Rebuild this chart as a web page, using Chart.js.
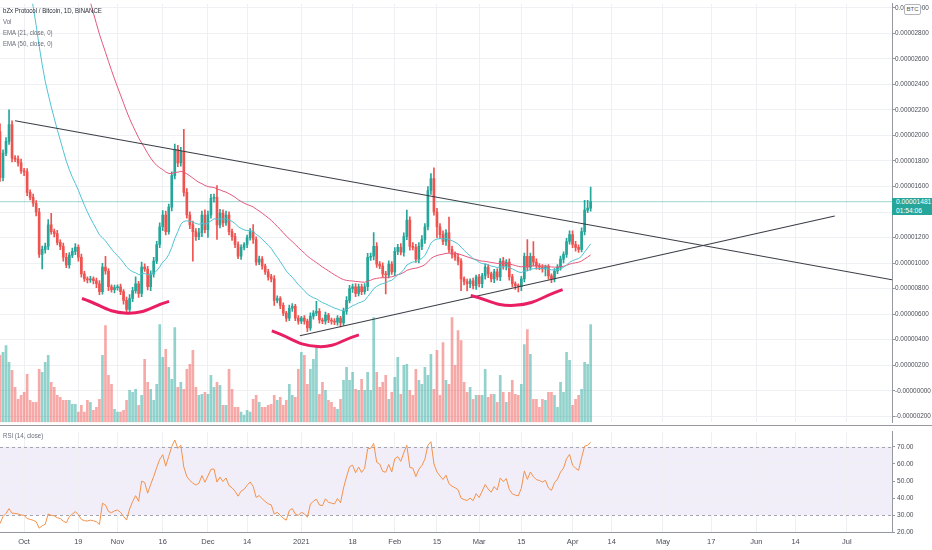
<!DOCTYPE html>
<html>
<head>
<meta charset="utf-8">
<script src="https://cdn.jsdelivr.net/npm/chart.js@4.4.1/dist/chart.umd.min.js"></script>
<style>
  body { margin: 0; background: #fff; width: 932px; height: 550px; overflow: hidden; position: relative;
         font-family: 'Liberation Sans', sans-serif; }
  #main { position: absolute; left: 0; top: 0; }
  #rsi { position: absolute; left: 0; top: 426px; }
  .lg { position: absolute; left: 3px; font-size: 7.6px; color: #6a6d78; white-space: nowrap; line-height: 9px;
        transform: scaleX(0.8); transform-origin: left top; }
  .sep { position: absolute; left: 0; top: 425px; width: 932px; height: 1px; background: #9598a1; }
  .btc { position: absolute; left: 904px; top: 4px; width: 15px; height: 9px; border: 1px solid #b2b5be; border-radius: 2px;
         background: #fff; font-size: 6px; line-height: 9px; text-align: center; color: #50535e; }
  .last { position: absolute; left: 892px; top: 198px; width: 40px; height: 17px; background: #26a69a; color: #fff;
          font-size: 6.7px; line-height: 8.5px; padding-left: 4px; box-sizing: border-box; }
</style>
</head>
<body>
<canvas id="main" width="932" height="426"></canvas>
<canvas id="rsi" width="932" height="124"></canvas>
<div class="sep"></div>
<div class="lg" style="top:6px;color:#2a2e39">bZx Protocol / Bitcoin, 1D, BINANCE</div>
<div class="lg" style="top:17px">Vol</div>
<div class="lg" style="top:28px">EMA (21, close, 0)</div>
<div class="lg" style="top:39px">EMA (50, close, 0)</div>
<div class="lg" style="top:431px">RSI (14, close)</div>
<div class="btc">BTC</div>
<div class="last">0.00001481<br>01:54:06</div>
<script>
// day 0 = 2020-09-23, one candle per day, prices in satoshi (1e-8 BTC)
const prevClose = 2031;
const closes = [
  1669,1862,1954,2085,1823,1815,1785,1723,1715,1554,
  1515,1469,1400,1069,1108,1131,1300,1246,1231,1162,
  1131,1046,985,1062,1092,1123,1046,915,877,869,
  877,862,838,777,969,938,815,792,808,815,
  777,708,638,723,785,838,762,969,954,815,
  915,1015,1146,1285,1377,1246,1438,1685,1892,1785,
  1877,1554,1377,1300,1246,1208,1238,1377,1262,1377,
  1508,1515,1300,1392,1315,1377,1246,1208,1146,1054,
  1123,1146,1200,1246,1185,1008,1031,977,931,892,
  877,708,723,669,608,569,646,662,569,546,
  569,546,492,585,608,623,554,546,592,554,
  546,538,569,531,623,708,800,815,762,815,
  777,815,1046,1054,1131,992,977,915,908,992,
  931,1092,1123,1085,1208,1338,1131,1123,1031,1131,
  1185,1285,1569,1662,1400,1285,1223,1169,1238,1108,
  1069,1046,1015,877,854,838,862,823,892,838,
  900,969,915,877,931,892,1015,977,1008,892,
  838,823,815,877,1054,969,1054,1008,977,969,
  954,969,900,877,938,969,1031,1069,1169,1223,
  1146,1123,1108,1246,1415,1431,1481
];
const wickUp = [
  60,25,30,115,30,20,25,30,20,25,
  20,25,20,30,25,25,40,90,20,25,
  20,25,30,20,25,30,20,25,20,15,
  20,15,20,25,30,85,20,15,20,15,
  20,15,25,30,25,55,20,40,25,20,
  25,30,25,30,35,30,25,30,40,30,
  30,170,30,25,30,25,35,30,40,30,
  30,25,92,30,25,30,25,20,25,20,
  20,15,20,25,55,20,25,20,15,20,
  20,25,20,15,20,15,25,20,15,20,
  15,20,15,25,20,77,20,15,25,15,
  15,20,20,15,25,30,25,20,25,20,
  20,25,30,25,108,30,20,25,20,25,
  20,30,25,30,30,77,25,30,25,30,
  30,25,30,40,85,30,25,30,25,123,
  25,20,25,20,15,20,15,20,15,20,
  20,25,20,15,20,25,20,30,20,25,
  20,15,15,20,25,130,25,115,25,20,
  20,15,20,15,20,20,25,20,25,30,
  30,25,20,30,77,60,115
];
const wickDown = [
  30,25,20,25,30,20,25,20,30,25,
  20,25,30,25,115,30,25,20,25,20,
  25,30,20,25,20,25,30,25,20,25,
  20,25,30,25,20,25,30,20,25,20,
  25,30,25,20,25,20,30,25,20,25,
  30,25,20,25,30,25,20,30,25,30,
  25,30,25,30,230,30,25,30,25,60,
  25,30,115,25,30,20,25,30,25,20,
  25,20,25,20,30,25,20,25,20,25,
  25,40,20,25,20,25,20,25,20,25,
  20,25,30,20,25,20,25,20,25,20,
  25,20,25,30,20,25,20,30,25,20,
  25,20,30,25,30,25,20,25,150,25,
  20,30,25,20,30,25,30,20,25,30,
  25,30,25,30,25,85,30,25,30,25,
  30,25,30,92,25,55,30,25,30,25,
  30,25,30,25,30,25,30,25,30,25,
  25,30,40,30,25,30,25,30,25,20,
  25,55,25,30,25,20,25,30,25,20,
  25,30,25,20,25,20,25
];
const volumes = [
  67,70,77,60,52,35,23,27,30,48,
  22,20,20,53,50,60,67,40,35,27,
  25,22,22,22,18,18,10,17,10,22,
  20,12,15,23,67,97,47,38,13,10,
  10,12,22,32,30,33,17,27,63,40,
  33,22,38,98,65,73,55,43,95,35,
  40,33,53,58,72,35,27,28,30,28,
  47,35,40,37,17,17,53,33,15,15,
  10,7,12,10,23,27,20,15,15,17,
  18,27,22,25,17,22,38,27,25,53,
  70,67,38,53,63,75,28,40,32,22,
  20,15,13,23,42,55,42,50,33,32,
  43,32,50,32,105,50,35,40,47,23,
  30,45,65,28,57,58,32,27,53,42,
  38,55,47,68,33,72,27,80,42,38,
  105,57,92,82,40,30,35,23,27,27,
  27,53,25,28,28,20,47,30,20,30,
  42,28,27,38,78,93,68,23,23,15,
  23,22,30,30,27,15,40,30,70,62,
  17,23,27,33,60,58,98
];
const tickDays = [8, 26, 39, 54, 69, 82, 100, 117, 131, 145, 159, 173, 190, 203, 220, 236, 251, 264, 281];
const tickLabels = ['Oct', '19', 'Nov', '16', 'Dec', '14', '2021', '18', 'Feb', '15', 'Mar', '15', 'Apr', '14', 'May', '17', 'Jun', '14', 'Jul'];
const priceTicks = [-200, 0, 200, 400, 600, 800, 1000, 1200, 1400, 1600, 1800, 2000, 2200, 2400, 2600, 2800, 3000];
const rsiTicks = [20, 30, 40, 50, 60, 70];
const lastPrice = 1481;

// hand drawn lines on the chart: [day, sats]
const resistance = [[5, 2115], [296, 869]];
const support = [[99.5, 431], [277, 1369]];
const arcs = [
  [[27.2, 723], [42.1, 608], [56.1, 700]],
  [[90.2, 469], [105.5, 346], [119.1, 438]],
  [[156.2, 746], [170.8, 669], [186.7, 792]]
];

// indicator state carried over from before the first visible day
const ema21Start = 5800;
const ema50Start = 7500;
const rsiGainStart = 70, rsiLossStart = 180;

Chart.defaults.font.family = "'Liberation Sans', sans-serif";

const UP = '#26a69a', DOWN = '#ef5350';
const opens = closes.map((c, i) => (i === 0 ? prevClose : closes[i - 1]));
const highs = closes.map((c, i) => Math.max(c, opens[i]) + wickUp[i]);
const lows = closes.map((c, i) => Math.min(c, opens[i]) - wickDown[i]);
const isUp = closes.map((c, i) => c >= opens[i]);

function ema(src, n, start) {
  const k = 2 / (n + 1);
  let e = start;
  return src.map((v) => (e = e + k * (v - e)));
}
const ema21 = ema(closes, 21, ema21Start);
const ema50 = ema(closes, 50, ema50Start);

let avgGain = rsiGainStart, avgLoss = rsiLossStart;
const rsi = closes.map((c, i) => {
  const d = c - opens[i];
  avgGain = (avgGain * 13 + Math.max(d, 0)) / 14;
  avgLoss = (avgLoss * 13 + Math.max(-d, 0)) / 14;
  return 100 - 100 / (1 + avgGain / avgLoss);
});

const pts = (arr) => arr.map((p) => ({ x: p[0], y: p[1] }));
const series = (arr) => arr.map((v, i) => ({ x: i, y: v }));

const gridColor = '#eef0f4';
const axisColor = '#9598a1';
const labelColor = '#4a4d57';

const xBase = {
  type: 'linear',
  min: 0,
  max: 296,
  offset: false,
  afterBuildTicks: (s) => { s.ticks = tickDays.map((v) => ({ value: v })); },
};

const lineStyle = (color, width) => ({
  type: 'line', borderColor: color, borderWidth: width, pointRadius: 0, fill: false,
});

new Chart(document.getElementById('main').getContext('2d'), {
  type: 'bar',
  data: {
    datasets: [
      ...arcs.map((a) => ({ ...lineStyle('#e91e63', 3), data: pts(a), tension: 0.45, order: 0 })),
      { ...lineStyle('#3b3e47', 1.1), data: pts(resistance), order: 0 },
      { ...lineStyle('#3b3e47', 1.1), data: pts(support), order: 0 },
      { ...lineStyle('#4fc3d3', 1), data: series(ema21), order: 1 },
      { ...lineStyle('#e4587c', 1), data: series(ema50), order: 1 },
      {
        data: closes.map((c, i) => ({ x: i, y: [opens[i], c] })),
        backgroundColor: isUp.map((u) => (u ? UP : DOWN)),
        barThickness: 2, grouped: false, order: 2,
      },
      {
        data: closes.map((c, i) => ({ x: i, y: [lows[i], highs[i]] })),
        backgroundColor: isUp.map((u) => (u ? UP : DOWN)),
        barThickness: 1, grouped: false, order: 3,
      },
      { ...lineStyle('rgba(38,166,154,0.45)', 1), data: [{ x: 0, y: lastPrice }, { x: 296, y: lastPrice }], order: 4 },
      {
        data: series(volumes),
        yAxisID: 'yv',
        backgroundColor: isUp.map((u) => (u ? 'rgba(38,166,154,0.5)' : 'rgba(239,83,80,0.5)')),
        barThickness: 2, grouped: false, order: 5,
      },
    ],
  },
  options: {
    responsive: false,
    animation: false,
    layout: { padding: 0 },
    plugins: { legend: { display: false }, tooltip: { enabled: false } },
    scales: {
      x: {
        ...xBase,
        afterFit: (s) => { s.height = 0; },
        ticks: { display: false },
        grid: { color: gridColor, drawTicks: false, offset: false },
        border: { display: false },
      },
      y: {
        position: 'right',
        min: -246,
        max: 3031,
        afterBuildTicks: (s) => { s.ticks = priceTicks.map((v) => ({ value: v })); },
        afterFit: (s) => { s.width = 40; },
        ticks: {
          callback: (v) => (v === 0 ? '-0.00000000' : (v / 1e8).toFixed(8)),
          font: { size: 6.4 }, color: labelColor, padding: 0,
        },
        grid: { color: gridColor, tickColor: axisColor, tickLength: 3 },
        border: { color: axisColor },
      },
      yv: { display: false, min: 0, max: 420 },
    },
  },
});

// overbought / oversold band of the RSI pane
const rsiBand = {
  id: 'rsiBand',
  beforeDraw(chart) {
    const { ctx, chartArea: a, scales: { y } } = chart;
    const top = y.getPixelForValue(70), bot = y.getPixelForValue(30);
    ctx.save();
    ctx.fillStyle = 'rgba(126,87,194,0.1)';
    ctx.fillRect(a.left, top, a.width, bot - top);
    ctx.restore();
  },
  beforeDatasetsDraw(chart) {
    const { ctx, chartArea: a, scales: { y } } = chart;
    ctx.save();
    ctx.strokeStyle = '#a3a6af';
    ctx.lineWidth = 1;
    ctx.setLineDash([3, 3]);
    [70, 30].forEach((v) => {
      const py = Math.round(y.getPixelForValue(v)) + 0.5;
      ctx.beginPath();
      ctx.moveTo(a.left, py);
      ctx.lineTo(a.right, py);
      ctx.stroke();
    });
    ctx.restore();
  },
};

new Chart(document.getElementById('rsi').getContext('2d'), {
  type: 'line',
  data: {
    datasets: [{ ...lineStyle('#f4914a', 1), data: series(rsi) }],
  },
  options: {
    responsive: false,
    animation: false,
    layout: { padding: 0 },
    plugins: { legend: { display: false }, tooltip: { enabled: false } },
    scales: {
      x: {
        ...xBase,
        afterFit: (s) => { s.height = 17; },
        ticks: {
          callback: (v, i) => tickLabels[i],
          autoSkip: false, maxRotation: 0, font: { size: 7.5 }, color: labelColor, padding: 4,
        },
        grid: { color: gridColor, drawTicks: false },
        border: { color: axisColor },
      },
      y: {
        position: 'right',
        min: 19.7,
        max: 78.65,
        afterBuildTicks: (s) => { s.ticks = rsiTicks.map((v) => ({ value: v })); },
        afterFit: (s) => { s.width = 40; },
        ticks: { callback: (v) => v.toFixed(2), font: { size: 6.6 }, color: labelColor, padding: 2 },
        grid: {
          color: (c) => (c.tick && [20, 30, 70].includes(c.tick.value) ? 'rgba(0,0,0,0)' : gridColor),
          tickColor: axisColor, tickLength: 3,
        },
        border: { color: axisColor },
      },
    },
  },
  plugins: [rsiBand],
});
</script>
</body>
</html>
